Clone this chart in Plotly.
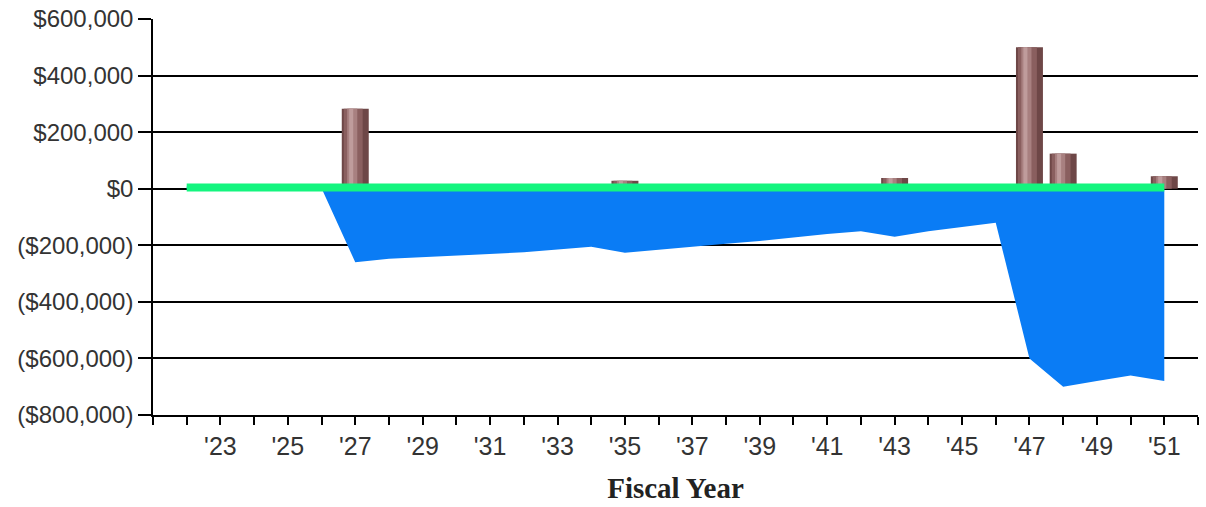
import plotly.graph_objects as go

years = list(range(2022, 2052))
tick_years = list(range(2021, 2053))
tick_labels = ["'" + str(y)[2:] if (y % 2 == 1 and 2023 <= y <= 2051) else "" for y in tick_years]

cash_flow = [8000, 12000, 5000, 12000, 2000, -260000, -248000, -242000, -237000, -232000,
             -225000, -215000, -205000, -226000, -215000, -205000, -195000, -185000, -172000, -160000,
             -150000, -170000, -150000, -135000, -120000, -600000, -700000, -680000, -660000, -680000]

bar_years = [2027, 2035, 2043, 2047, 2048, 2051]
bar_values = [283000, 28000, 38000, 500000, 124000, 44000]

line_values = [4000] * 30

y_ticks = [600000, 400000, 200000, 0, -200000, -400000, -600000, -800000]
y_labels = ["$600,000", "$400,000", "$200,000", "$0", "($200,000)", "($400,000)", "($600,000)", "($800,000)"]

fig = go.Figure()

fig.add_trace(go.Scatter(x=years, y=cash_flow, mode="lines", fill="tozeroy",
                         line=dict(width=0, color="#0a7cf5"), fillcolor="#0a7cf5",
                         hoverinfo="x+y", showlegend=False))

# cylinder-like bars made of stacked overlays
for w, o, c in [(0.8, -0.4, "#6e4747"), (0.56, -0.34, "#8a5f5f"), (0.3, -0.24, "#a88080"), (0.12, -0.18, "#bf9c9c")]:
    fig.add_trace(go.Bar(x=bar_years, y=bar_values, width=w, offset=o,
                         marker=dict(color=c, line=dict(width=0)), showlegend=False))

fig.add_trace(go.Scatter(x=years, y=line_values, mode="lines",
                         line=dict(width=8, color="#14f57f"), showlegend=False))

fig.update_layout(
    width=1206, height=507,
    margin=dict(l=153, r=8, t=19, b=92),
    plot_bgcolor="white", paper_bgcolor="white",
    barmode="overlay",
    font=dict(family="Liberation Sans, Arial, sans-serif", size=24, color="#333333"),
    xaxis=dict(range=[2021, 2052], tickvals=tick_years, ticktext=tick_labels,
               tickfont=dict(size=25), automargin=False,
               showgrid=False, showline=True, linecolor="black", linewidth=1.5,
               ticks="outside", ticklen=8, tickcolor="black", tickwidth=1.5,
               zeroline=False,
               title=dict(text="<b>Fiscal Year</b>", standoff=19,
                          font=dict(family="Liberation Serif, Times New Roman, serif", size=29, color="#222222"))),
    yaxis=dict(range=[-800000, 600000], tickvals=y_ticks, ticktext=y_labels,
               tickfont=dict(size=24), automargin=False,
               showgrid=True, gridcolor="black", gridwidth=1.5,
               showline=True, linecolor="black", linewidth=1.5,
               ticks="outside", ticklen=13, tickcolor="black", tickwidth=1.5,
               zeroline=False),
)

fig.write_html("out.html")
